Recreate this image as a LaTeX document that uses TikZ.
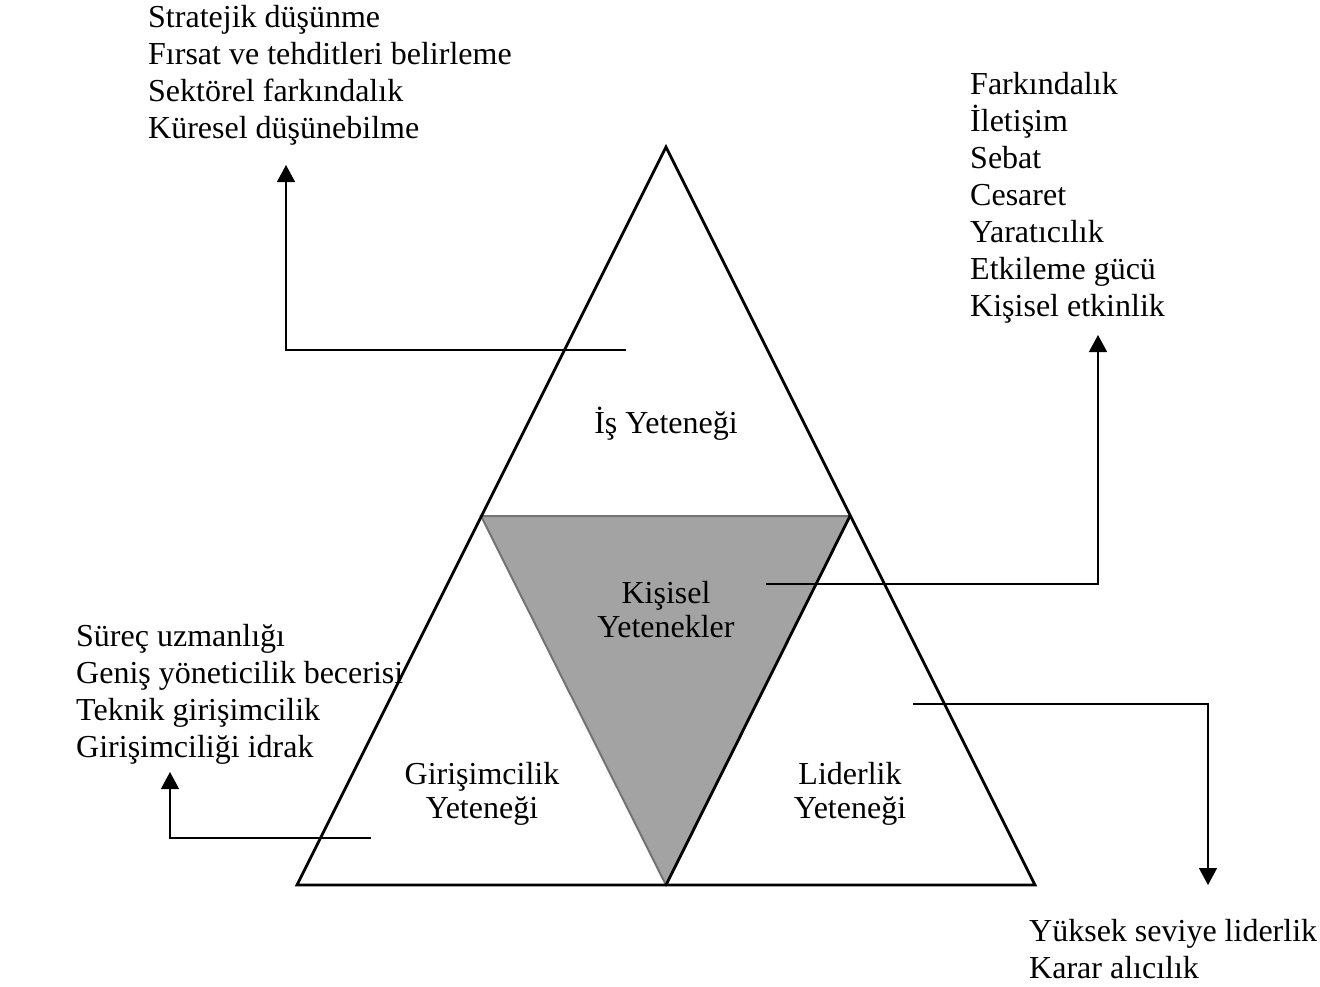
\documentclass[tikz,border=0pt]{standalone}
\usepackage{fontspec}
\setmainfont{Liberation Serif}
\usetikzlibrary{arrows.meta}

\tikzset{
  edge/.style={line width=2.8pt, line join=miter},
  conn/.style={line width=1.4pt, draw=black},
  arr/.style={conn, -{Triangle[length=17pt,width=18pt]}},
  txt/.style={inner sep=0, anchor=base west, align=left, font=\fontsize{32}{37}\selectfont},
  lbl/.style={inner sep=0, align=center, font=\fontsize{32}{34}\selectfont},
}

\begin{document}
\begin{tikzpicture}[x=1pt,y=-1pt]
\useasboundingbox (0,0) rectangle (1320,986);
\coordinate (t) at (666,147);
\coordinate (bl) at (297,885);
\coordinate (br) at (1035,885);
\coordinate (ml) at (481,516);
\coordinate (mr) at (850,516);
\coordinate (bm) at (666,885);

\filldraw[fill=black!36, draw=black!55, line width=2pt] (ml) -- (mr) -- (bm) -- cycle;
\draw[edge] (t) -- (br) -- (bl) -- cycle;
\draw[edge] (bm) -- (mr);

\node[lbl] (is) at (666,424) {İş Yeteneği};
\node[lbl] (kis) at (666,610) {Kişisel\\Yetenekler};
\node[lbl] (gir) at (482,794) {Girişimcilik\\Yeteneği};
\node[lbl] (lid) at (850,794) {Liderlik\\Yeteneği};

% base anchor = last line
\node[txt] (isl) at (148,138) {Stratejik düşünme\\Fırsat ve tehditleri belirleme\\Sektörel farkındalık\\Küresel düşünebilme};
\node[txt] (kisl) at (970,316) {Farkındalık\\İletişim\\Sebat\\Cesaret\\Yaratıcılık\\Etkileme gücü\\Kişisel etkinlik};
\node[txt] (girl) at (76,757) {Süreç uzmanlığı\\Geniş yöneticilik becerisi\\Teknik girişimcilik\\Girişimciliği idrak};
\node[txt] (lidl) at (1029,978) {Yüksek seviye liderlik\\Karar alıcılık};

\coordinate (s1) at (626,350);
\coordinate (e1) at (286,165);
\coordinate (s2) at (766,584);
\coordinate (e2) at (1098,335);
\coordinate (s3) at (913,704);
\coordinate (e3) at (1208,885);
\coordinate (s4) at (371,838);
\coordinate (e4) at (170,772);
\draw[arr] (s1) -| (e1);
\draw[arr] (s2) -| (e2);
\draw[arr] (s3) -| (e3);
\draw[arr] (s4) -| (e4);
\end{tikzpicture}
\end{document}
